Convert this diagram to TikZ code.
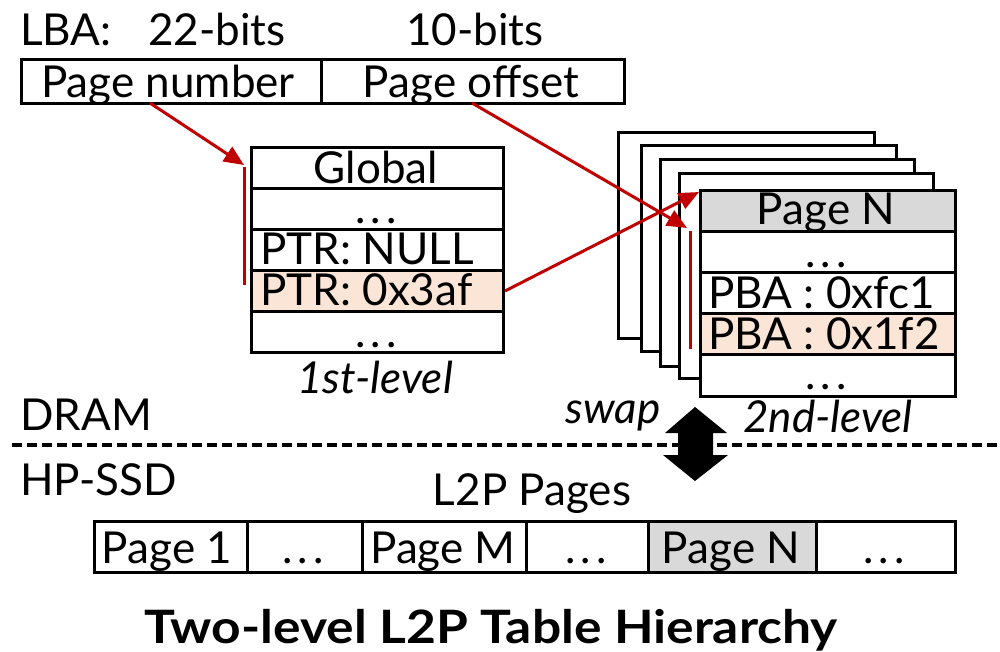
\documentclass[tikz,border=0pt]{standalone}
\usepackage{fontspec}
\setmainfont{Lato}
\usetikzlibrary{arrows.meta}
\definecolor{peach}{HTML}{FBE5D6}
\definecolor{lgray}{HTML}{D9D9D9}
\definecolor{dred}{HTML}{C00000}
\newcommand{\wdots}{.\hspace{5pt}.\hspace{5pt}.}
\begin{document}
\begin{tikzpicture}[x=1pt,y=-1pt,
  cell/.style={draw, line width=3pt, inner sep=0pt, anchor=north west},
  txt/.style={inner sep=0pt, font=\fontsize{44}{48}\selectfont},
  itxt/.style={inner sep=0pt, font=\fontsize{44}{48}\selectfont\itshape},
  btxt/.style={inner sep=0pt, font=\fontsize{46}{50}\selectfont\bfseries},
  redarr/.style={draw=dred, line width=3pt, -{Triangle[length=20pt,width=17pt]}},
  redbar/.style={draw=dred, line width=3pt},
  dashline/.style={line width=3.5pt, dash pattern=on 10pt off 5pt}]
\useasboundingbox (0,0) rectangle (1000,651);

% LBA header
\node[txt, anchor=base west] (lba) at (20,45) {LBA:};
\node[txt, anchor=base] (b22) at (217,45) {22-bits};
\node[txt, anchor=base] (b10) at (475,45) {10-bits};
\node[cell, minimum width=300pt, minimum height=44pt] (pn) at (20,58) {};
\node[cell, minimum width=303pt, minimum height=44pt] (po) at (320,58) {};
\node[txt, anchor=base] (pnt) at (168,97) {Page number};
\node[txt, anchor=base] (pot) at (471,97) {Page offset};

% first level table
\node[cell, minimum width=252pt, minimum height=41pt] (g1) at (250,146) {};
\node[cell, minimum width=252pt, minimum height=41pt] (g2) at (250,187) {};
\node[cell, minimum width=252pt, minimum height=41pt] (g3) at (250,228) {};
\node[cell, minimum width=252pt, minimum height=41pt, fill=peach] (g4) at (250,269) {};
\node[cell, minimum width=252pt, minimum height=41pt] (g5) at (250,310) {};
\node[txt, anchor=base] (g1t) at (376,183) {Global};
\node[txt, anchor=base] (g2t) at (376,223) {\wdots};
\node[txt, anchor=base west] (g3t) at (260,264) {PTR: NULL};
\node[txt, anchor=base west] (g4t) at (260,305) {PTR: 0x3af};
\node[txt, anchor=base] (g5t) at (376,347) {\wdots};
\node[itxt, anchor=base] (l1) at (375,393) {1st-level};

% second level stack
\node[cell, fill=white, minimum width=256pt, minimum height=206pt] (p1) at (617,131) {};
\node[cell, fill=white, minimum width=255pt, minimum height=206pt] (p2) at (640,144) {};
\node[cell, fill=white, minimum width=254pt, minimum height=207pt] (p3) at (659,158) {};
\node[cell, fill=white, minimum width=254pt, minimum height=205pt] (p4) at (678,172) {};
\node[cell, fill=lgray, minimum width=255pt, minimum height=41pt] (f1) at (699,189) {};
\node[cell, fill=white, minimum width=255pt, minimum height=41pt] (f2) at (699,230) {};
\node[cell, fill=white, minimum width=255pt, minimum height=41pt] (f3) at (699,271) {};
\node[cell, fill=peach, minimum width=255pt, minimum height=41pt] (f4) at (699,312) {};
\node[cell, fill=white, minimum width=255pt, minimum height=42pt] (f5) at (699,353) {};
\node[txt, anchor=base] (f1t) at (826,224) {Page N};
\node[txt, anchor=base] (f2t) at (826,267) {\wdots};
\node[txt, anchor=base west] (f3t) at (708,308) {PBA : 0xfc1};
\node[txt, anchor=base west] (f4t) at (708,349) {PBA : 0x1f2};
\node[txt, anchor=base] (f5t) at (826,389) {\wdots};
\node[itxt, anchor=base] (l2) at (828,432) {2nd-level};

% red bars and arrows
\coordinate (bar1t) at (244,167);
\coordinate (bar1b) at (244,285);
\draw[redbar] (bar1t) -- (bar1b);
\coordinate (bar2t) at (690,231);
\coordinate (bar2b) at (690,349);
\draw[redbar] (bar2t) -- (bar2b);
\coordinate (a1s) at (150,103);
\coordinate (a1e) at (244,165);
\draw[redarr] (a1s) -- (a1e);
\coordinate (a2s) at (472,103);
\coordinate (a2e) at (687,228);
\draw[redarr] (a2s) -- (a2e);
\coordinate (a3e) at (699,192);
\draw[redarr] (g4.east) -- (a3e);

% DRAM / SSD
\node[txt, anchor=base west] (dram) at (20,430) {DRAM};
\node[itxt, anchor=base] (swap) at (613,423) {swap};
\coordinate (dl) at (12,445);
\coordinate (dr) at (1000,445);
\draw[dashline] (dl) -- (dr);
\fill (695,407) -- (727,433) -- (713,433) -- (713,455) -- (728,455) -- (695,481)
  -- (663,455) -- (678,455) -- (678,433) -- (665,433) -- cycle;
\node[txt, anchor=base west] (ssd) at (20,495) {HP-SSD};
\node[txt, anchor=base] (l2p) at (532,505) {L2P Pages};

% bottom pages
\node[cell, minimum width=153pt, minimum height=51pt] (s1) at (93,520) {};
\node[cell, minimum width=115pt, minimum height=51pt] (s2) at (246,520) {};
\node[cell, minimum width=164pt, minimum height=51pt] (s3) at (361,520) {};
\node[cell, minimum width=122pt, minimum height=51pt] (s4) at (525,520) {};
\node[cell, fill=lgray, minimum width=168pt, minimum height=51pt] (s5) at (647,520) {};
\node[cell, minimum width=139pt, minimum height=51pt] (s6) at (815,520) {};
\node[txt, anchor=base] (s1t) at (167,563) {Page 1};
\node[txt, anchor=base] (s2t) at (303,563) {\wdots};
\node[txt, anchor=base] (s3t) at (443,563) {Page M};
\node[txt, anchor=base] (s4t) at (586,563) {\wdots};
\node[txt, anchor=base] (s5t) at (731,563) {Page N};
\node[txt, anchor=base] (s6t) at (884,563) {\wdots};

% title
\node[btxt, anchor=base] (title) at (491,643) {\scalebox{1.12}[1]{Two-level L2P Table Hierarchy}};
\end{tikzpicture}
\end{document}
